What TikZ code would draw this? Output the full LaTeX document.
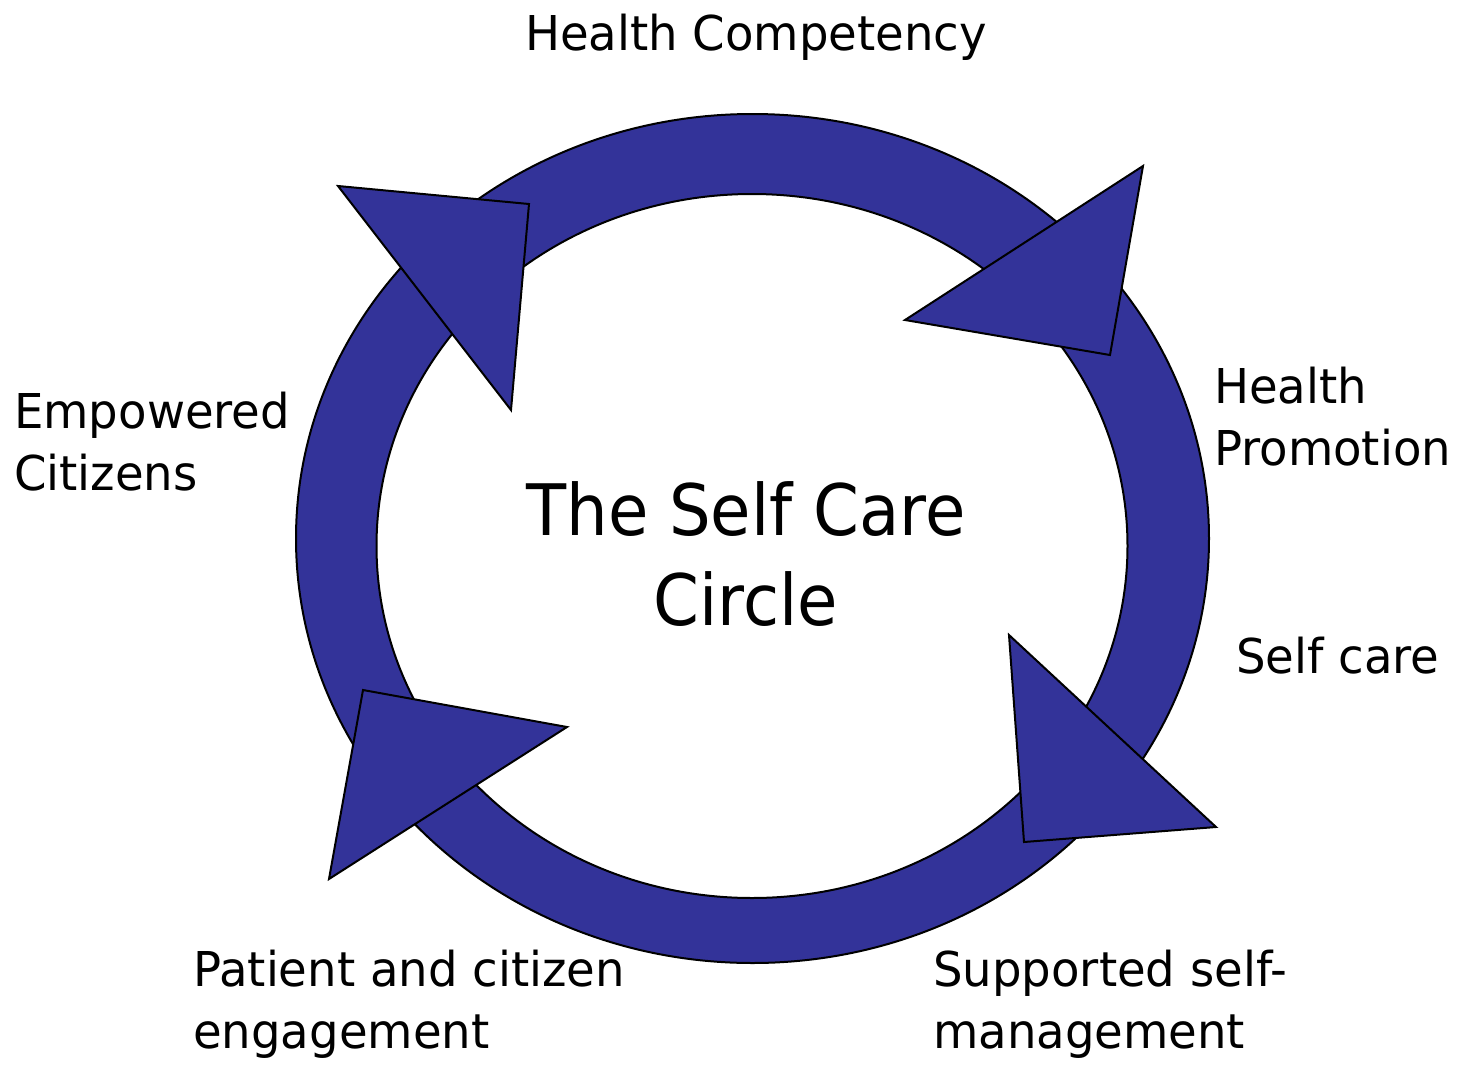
\documentclass[tikz,border=0pt]{standalone}
\usepackage{fontspec}
\newfontfamily\lblfont[FakeStretch=0.97]{DejaVu Sans}
\newfontfamily\ttlfont[FakeStretch=0.925]{DejaVu Sans}
\definecolor{ringblue}{HTML}{333399}
\begin{document}
\begin{tikzpicture}[x=1pt,y=-1pt,
  shapefill/.style={fill=ringblue,draw=black,line width=2pt,line join=miter},
  lbl/.style={font=\lblfont\fontsize{48}{62}\selectfont,anchor=base west,inner sep=0pt,align=left},
  ttl/.style={font=\ttlfont\fontsize{71}{90}\selectfont,anchor=base,inner sep=0pt,align=center}]
\useasboundingbox (0,0) rectangle (1460,1066);
\fill[white] (0,0) rectangle (1460,1066);
% ring
\path[shapefill,even odd rule] (752.5,538.5) ellipse [x radius=456.5pt,y radius=424.5pt]
  (752,546) ellipse [x radius=375.5pt,y radius=352pt];
% arrowheads
\path[shapefill] (338,186) -- (529,204) -- (511,410) -- cycle;
\path[shapefill] (1143,166) -- (1110,355) -- (905,320) -- cycle;
\path[shapefill] (1009,635) -- (1216,827) -- (1024,842) -- cycle;
\path[shapefill] (363,690) -- (567,727) -- (329,879) -- cycle;
% labels (multi-line nodes: base anchor is the last line's baseline)
\node[lbl] (hc) at (525,50) {Health Competency};
\node[lbl] (ec) at (14,490) {Empowered\\Citizens};
\node[lbl] (hp) at (1214,465) {Health\\Promotion};
\node[lbl] (sc) at (1236,673) {Self care};
\node[lbl] (pc) at (193,1048) {Patient and citizen\\engagement};
\node[lbl] (ss) at (933,1048) {Supported self-\\management};
\node[ttl] (title) at (746,625) {The Self Care\\Circle};
\end{tikzpicture}
\end{document}
